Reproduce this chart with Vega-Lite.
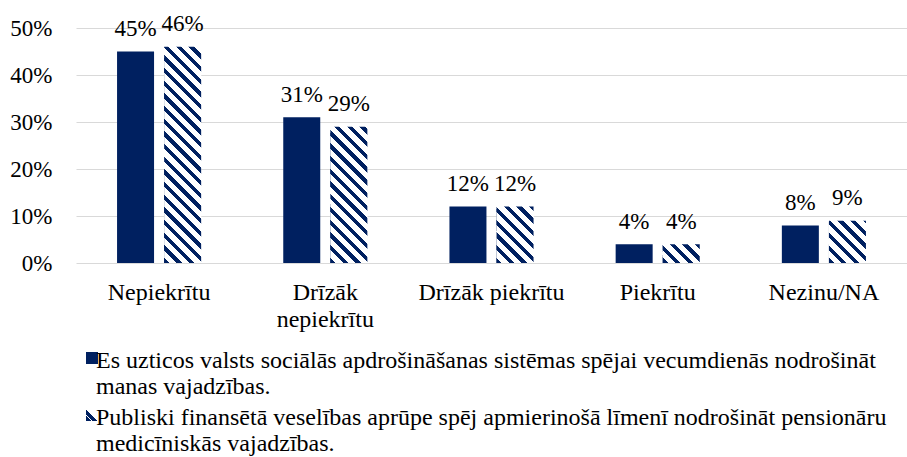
{
  "$schema": "https://vega.github.io/schema/vega-lite/v6.json",
  "width": 831,
  "height": 235,
  "autosize": {"type": "none"},
  "padding": {"left": 76, "top": 28, "right": 0, "bottom": 194},
  "background": "#ffffff",
  "config": {
    "view": {"stroke": null},
    "font": "Liberation Serif",
    "axis": {"labelFont": "Liberation Serif", "labelColor": "#000000", "title": null}
  },
  "data": {
    "values": [
      {"cat": "Nepiekrītu", "series": "Es uzticos valsts sociālās apdrošināšanas sistēmas spējai vecumdienās nodrošināt manas vajadzības.", "value": 0.45},
      {"cat": "Nepiekrītu", "series": "Publiski finansētā veselības aprūpe spēj apmierinošā līmenī nodrošināt pensionāru medicīniskās vajadzības.", "value": 0.46},
      {"cat": "Drīzāk nepiekrītu", "series": "Es uzticos valsts sociālās apdrošināšanas sistēmas spējai vecumdienās nodrošināt manas vajadzības.", "value": 0.31},
      {"cat": "Drīzāk nepiekrītu", "series": "Publiski finansētā veselības aprūpe spēj apmierinošā līmenī nodrošināt pensionāru medicīniskās vajadzības.", "value": 0.29},
      {"cat": "Drīzāk piekrītu", "series": "Es uzticos valsts sociālās apdrošināšanas sistēmas spējai vecumdienās nodrošināt manas vajadzības.", "value": 0.12},
      {"cat": "Drīzāk piekrītu", "series": "Publiski finansētā veselības aprūpe spēj apmierinošā līmenī nodrošināt pensionāru medicīniskās vajadzības.", "value": 0.12},
      {"cat": "Piekrītu", "series": "Es uzticos valsts sociālās apdrošināšanas sistēmas spējai vecumdienās nodrošināt manas vajadzības.", "value": 0.04},
      {"cat": "Piekrītu", "series": "Publiski finansētā veselības aprūpe spēj apmierinošā līmenī nodrošināt pensionāru medicīniskās vajadzības.", "value": 0.04},
      {"cat": "Nezinu/NA", "series": "Es uzticos valsts sociālās apdrošināšanas sistēmas spējai vecumdienās nodrošināt manas vajadzības.", "value": 0.08},
      {"cat": "Nezinu/NA", "series": "Publiski finansētā veselības aprūpe spēj apmierinošā līmenī nodrošināt pensionāru medicīniskās vajadzības.", "value": 0.09}
    ]
  },
  "encoding": {
    "x": {
      "field": "cat", "type": "nominal", "sort": null,
      "scale": {"domain": ["Nepiekrītu", "Drīzāk nepiekrītu", "Drīzāk piekrītu", "Piekrītu", "Nezinu/NA"], "paddingInner": 0.494, "paddingOuter": 0.247},
      "axis": {
        "domain": false, "ticks": false, "labelAngle": 0, "labelFontSize": 24, "labelPadding": 17, "labelLineHeight": 27,
        "labelExpr": "datum.label === 'Drīzāk nepiekrītu' ? ['Drīzāk', 'nepiekrītu'] : datum.label"
      }
    },
    "xOffset": {
      "field": "series", "type": "nominal",
      "scale": {"domain": ["Es uzticos valsts sociālās apdrošināšanas sistēmas spējai vecumdienās nodrošināt manas vajadzības.", "Publiski finansētā veselības aprūpe spēj apmierinošā līmenī nodrošināt pensionāru medicīniskās vajadzības."], "paddingInner": 0.2143, "paddingOuter": 0}
    },
    "y": {
      "field": "value", "type": "quantitative",
      "scale": {"domain": [0, 0.5], "nice": false},
      "axis": {"values": [0, 0.1, 0.2, 0.3, 0.4, 0.5], "format": ".0%", "domain": false, "ticks": false, "grid": true, "gridColor": "#d9d9d9", "gridWidth": 1, "labelFontSize": 23, "labelPadding": 24}
    }
  },
  "layer": [
    {
      "mark": {"type": "bar"},
      "encoding": {
        "color": {
          "field": "series", "type": "nominal",
          "scale": {
            "domain": ["Es uzticos valsts sociālās apdrošināšanas sistēmas spējai vecumdienās nodrošināt manas vajadzības.", "Publiski finansētā veselības aprūpe spēj apmierinošā līmenī nodrošināt pensionāru medicīniskās vajadzības."],
            "range": [
              "#002060",
              {"expr": "{gradient: 'linear', x1: 0, y1: 1, x2: 1, y2: 0, stops: [{offset: 0, color: '#002060'}, {offset: 0.22, color: '#002060'}, {offset: 0.22, color: '#ffffff'}, {offset: 0.28, color: '#ffffff'}, {offset: 0.28, color: '#002060'}, {offset: 0.48, color: '#002060'}, {offset: 0.48, color: '#ffffff'}, {offset: 1, color: '#ffffff'}]}"}
            ]
          },
          "legend": {
            "orient": "none", "legendX": 4, "legendY": 318, "direction": "vertical", "title": null,
            "symbolType": "square", "symbolSize": 144, "symbolStrokeWidth": 0, "padding": 0,
            "labelFont": "Liberation Serif", "labelFontSize": 24, "labelColor": "#000000", "labelLimit": 900,
            "labelOffset": -3, "labelBaseline": "top", "labelLineHeight": 28.5, "rowPadding": 4,
            "labelExpr": "indexof(datum.label, 'Es ') === 0 ? ['Es uzticos valsts sociālās apdrošināšanas sistēmas spējai vecumdienās nodrošināt', 'manas vajadzības.'] : ['Publiski finansētā veselības aprūpe spēj apmierinošā līmenī nodrošināt pensionāru', 'medicīniskās vajadzības.']",
            "encode": {"labels": {"update": {"dy": {"value": -9}, "dx": {"value": -5}}}}
          }
        }
      }
    },
    {
      "transform": [{"filter": "indexof(datum.series, 'Publiski') === 0"}],
      "mark": {"type": "bar"},
      "encoding": {
        "fill": {
          "condition": [
            {"test": "datum.cat === 'Nepiekrītu'", "value": {"gradient": "linear", "x1": 0, "y1": 1, "x2": 0.19473, "y2": -0.13785, "stops": [
                {"offset": 0, "color": "#002060"}, {"offset": 0.021, "color": "#002060"}, {"offset": 0.021, "color": "#ffffff"}, {"offset": 0.05, "color": "#ffffff"},
                {"offset": 0.05, "color": "#002060"}, {"offset": 0.071, "color": "#002060"}, {"offset": 0.071, "color": "#ffffff"}, {"offset": 0.1, "color": "#ffffff"},
                {"offset": 0.1, "color": "#002060"}, {"offset": 0.121, "color": "#002060"}, {"offset": 0.121, "color": "#ffffff"}, {"offset": 0.15, "color": "#ffffff"},
                {"offset": 0.15, "color": "#002060"}, {"offset": 0.171, "color": "#002060"}, {"offset": 0.171, "color": "#ffffff"}, {"offset": 0.2, "color": "#ffffff"},
                {"offset": 0.2, "color": "#002060"}, {"offset": 0.221, "color": "#002060"}, {"offset": 0.221, "color": "#ffffff"}, {"offset": 0.25, "color": "#ffffff"},
                {"offset": 0.25, "color": "#002060"}, {"offset": 0.271, "color": "#002060"}, {"offset": 0.271, "color": "#ffffff"}, {"offset": 0.3, "color": "#ffffff"},
                {"offset": 0.3, "color": "#002060"}, {"offset": 0.321, "color": "#002060"}, {"offset": 0.321, "color": "#ffffff"}, {"offset": 0.35, "color": "#ffffff"},
                {"offset": 0.35, "color": "#002060"}, {"offset": 0.371, "color": "#002060"}, {"offset": 0.371, "color": "#ffffff"}, {"offset": 0.4, "color": "#ffffff"},
                {"offset": 0.4, "color": "#002060"}, {"offset": 0.421, "color": "#002060"}, {"offset": 0.421, "color": "#ffffff"}, {"offset": 0.45, "color": "#ffffff"},
                {"offset": 0.45, "color": "#002060"}, {"offset": 0.471, "color": "#002060"}, {"offset": 0.471, "color": "#ffffff"}, {"offset": 0.5, "color": "#ffffff"},
                {"offset": 0.5, "color": "#002060"}, {"offset": 0.521, "color": "#002060"}, {"offset": 0.521, "color": "#ffffff"}, {"offset": 0.55, "color": "#ffffff"},
                {"offset": 0.55, "color": "#002060"}, {"offset": 0.571, "color": "#002060"}, {"offset": 0.571, "color": "#ffffff"}, {"offset": 0.6, "color": "#ffffff"},
                {"offset": 0.6, "color": "#002060"}, {"offset": 0.621, "color": "#002060"}, {"offset": 0.621, "color": "#ffffff"}, {"offset": 0.65, "color": "#ffffff"},
                {"offset": 0.65, "color": "#002060"}, {"offset": 0.671, "color": "#002060"}, {"offset": 0.671, "color": "#ffffff"}, {"offset": 0.7, "color": "#ffffff"},
                {"offset": 0.7, "color": "#002060"}, {"offset": 0.721, "color": "#002060"}, {"offset": 0.721, "color": "#ffffff"}, {"offset": 0.75, "color": "#ffffff"},
                {"offset": 0.75, "color": "#002060"}, {"offset": 0.771, "color": "#002060"}, {"offset": 0.771, "color": "#ffffff"}, {"offset": 0.8, "color": "#ffffff"},
                {"offset": 0.8, "color": "#002060"}, {"offset": 0.821, "color": "#002060"}, {"offset": 0.821, "color": "#ffffff"}, {"offset": 0.85, "color": "#ffffff"},
                {"offset": 0.85, "color": "#002060"}, {"offset": 0.871, "color": "#002060"}, {"offset": 0.871, "color": "#ffffff"}, {"offset": 0.9, "color": "#ffffff"},
                {"offset": 0.9, "color": "#002060"}, {"offset": 0.921, "color": "#002060"}, {"offset": 0.921, "color": "#ffffff"}, {"offset": 0.95, "color": "#ffffff"},
                {"offset": 0.95, "color": "#002060"}, {"offset": 0.971, "color": "#002060"}, {"offset": 0.971, "color": "#ffffff"}, {"offset": 1, "color": "#ffffff"}
              ]}},
            {"test": "datum.cat === 'Drīzāk nepiekrītu'", "value": {"gradient": "linear", "x1": 0, "y1": 1, "x2": 0.32146, "y2": -0.1842, "stops": [
                {"offset": 0, "color": "#002060"}, {"offset": 0.031, "color": "#002060"}, {"offset": 0.031, "color": "#ffffff"}, {"offset": 0.0735, "color": "#ffffff"},
                {"offset": 0.0735, "color": "#002060"}, {"offset": 0.1045, "color": "#002060"}, {"offset": 0.1045, "color": "#ffffff"}, {"offset": 0.147, "color": "#ffffff"},
                {"offset": 0.147, "color": "#002060"}, {"offset": 0.178, "color": "#002060"}, {"offset": 0.178, "color": "#ffffff"}, {"offset": 0.2205, "color": "#ffffff"},
                {"offset": 0.2205, "color": "#002060"}, {"offset": 0.2515, "color": "#002060"}, {"offset": 0.2515, "color": "#ffffff"}, {"offset": 0.294, "color": "#ffffff"},
                {"offset": 0.294, "color": "#002060"}, {"offset": 0.325, "color": "#002060"}, {"offset": 0.325, "color": "#ffffff"}, {"offset": 0.3675, "color": "#ffffff"},
                {"offset": 0.3675, "color": "#002060"}, {"offset": 0.3985, "color": "#002060"}, {"offset": 0.3985, "color": "#ffffff"}, {"offset": 0.441, "color": "#ffffff"},
                {"offset": 0.441, "color": "#002060"}, {"offset": 0.472, "color": "#002060"}, {"offset": 0.472, "color": "#ffffff"}, {"offset": 0.5145, "color": "#ffffff"},
                {"offset": 0.5145, "color": "#002060"}, {"offset": 0.5455, "color": "#002060"}, {"offset": 0.5455, "color": "#ffffff"}, {"offset": 0.588, "color": "#ffffff"},
                {"offset": 0.588, "color": "#002060"}, {"offset": 0.619, "color": "#002060"}, {"offset": 0.619, "color": "#ffffff"}, {"offset": 0.6615, "color": "#ffffff"},
                {"offset": 0.6615, "color": "#002060"}, {"offset": 0.6925, "color": "#002060"}, {"offset": 0.6925, "color": "#ffffff"}, {"offset": 0.735, "color": "#ffffff"},
                {"offset": 0.735, "color": "#002060"}, {"offset": 0.766, "color": "#002060"}, {"offset": 0.766, "color": "#ffffff"}, {"offset": 0.8085, "color": "#ffffff"},
                {"offset": 0.8085, "color": "#002060"}, {"offset": 0.8395, "color": "#002060"}, {"offset": 0.8395, "color": "#ffffff"}, {"offset": 0.882, "color": "#ffffff"},
                {"offset": 0.882, "color": "#002060"}, {"offset": 0.913, "color": "#002060"}, {"offset": 0.913, "color": "#ffffff"}, {"offset": 0.9555, "color": "#ffffff"},
                {"offset": 0.9555, "color": "#002060"}, {"offset": 0.9865, "color": "#002060"}, {"offset": 0.9865, "color": "#ffffff"}, {"offset": 1, "color": "#ffffff"}
              ]}},
            {"test": "datum.cat === 'Drīzāk piekrītu'", "value": {"gradient": "linear", "x1": 0, "y1": 1, "x2": 0.75953, "y2": -0.15777, "stops": [
                {"offset": 0, "color": "#002060"}, {"offset": 0.057, "color": "#002060"}, {"offset": 0.057, "color": "#ffffff"}, {"offset": 0.136, "color": "#ffffff"},
                {"offset": 0.136, "color": "#002060"}, {"offset": 0.193, "color": "#002060"}, {"offset": 0.193, "color": "#ffffff"}, {"offset": 0.272, "color": "#ffffff"},
                {"offset": 0.272, "color": "#002060"}, {"offset": 0.329, "color": "#002060"}, {"offset": 0.329, "color": "#ffffff"}, {"offset": 0.408, "color": "#ffffff"},
                {"offset": 0.408, "color": "#002060"}, {"offset": 0.465, "color": "#002060"}, {"offset": 0.465, "color": "#ffffff"}, {"offset": 0.544, "color": "#ffffff"},
                {"offset": 0.544, "color": "#002060"}, {"offset": 0.601, "color": "#002060"}, {"offset": 0.601, "color": "#ffffff"}, {"offset": 0.68, "color": "#ffffff"},
                {"offset": 0.68, "color": "#002060"}, {"offset": 0.737, "color": "#002060"}, {"offset": 0.737, "color": "#ffffff"}, {"offset": 0.816, "color": "#ffffff"},
                {"offset": 0.816, "color": "#002060"}, {"offset": 0.873, "color": "#002060"}, {"offset": 0.873, "color": "#ffffff"}, {"offset": 0.952, "color": "#ffffff"},
                {"offset": 0.952, "color": "#002060"}, {"offset": 1, "color": "#002060"}
              ]}},
            {"test": "datum.cat === 'Piekrītu'", "value": {"gradient": "linear", "x1": 0, "y1": 1, "x2": 1.19866, "y2": 0.39094, "stops": [
                {"offset": 0, "color": "#002060"}, {"offset": 0.096, "color": "#002060"}, {"offset": 0.096, "color": "#ffffff"}, {"offset": 0.228, "color": "#ffffff"},
                {"offset": 0.228, "color": "#002060"}, {"offset": 0.324, "color": "#002060"}, {"offset": 0.324, "color": "#ffffff"}, {"offset": 0.456, "color": "#ffffff"},
                {"offset": 0.456, "color": "#002060"}, {"offset": 0.552, "color": "#002060"}, {"offset": 0.552, "color": "#ffffff"}, {"offset": 0.684, "color": "#ffffff"},
                {"offset": 0.684, "color": "#002060"}, {"offset": 0.78, "color": "#002060"}, {"offset": 0.78, "color": "#ffffff"}, {"offset": 0.912, "color": "#ffffff"},
                {"offset": 0.912, "color": "#002060"}, {"offset": 1, "color": "#002060"}
              ]}}
          ],
          "value": {"gradient": "linear", "x1": 0, "y1": 1, "x2": 0.92902, "y2": -0.0621, "stops": [
                {"offset": 0, "color": "#002060"}, {"offset": 0.067, "color": "#002060"}, {"offset": 0.067, "color": "#ffffff"}, {"offset": 0.16, "color": "#ffffff"},
                {"offset": 0.16, "color": "#002060"}, {"offset": 0.227, "color": "#002060"}, {"offset": 0.227, "color": "#ffffff"}, {"offset": 0.32, "color": "#ffffff"},
                {"offset": 0.32, "color": "#002060"}, {"offset": 0.387, "color": "#002060"}, {"offset": 0.387, "color": "#ffffff"}, {"offset": 0.48, "color": "#ffffff"},
                {"offset": 0.48, "color": "#002060"}, {"offset": 0.547, "color": "#002060"}, {"offset": 0.547, "color": "#ffffff"}, {"offset": 0.64, "color": "#ffffff"},
                {"offset": 0.64, "color": "#002060"}, {"offset": 0.707, "color": "#002060"}, {"offset": 0.707, "color": "#ffffff"}, {"offset": 0.8, "color": "#ffffff"},
                {"offset": 0.8, "color": "#002060"}, {"offset": 0.867, "color": "#002060"}, {"offset": 0.867, "color": "#ffffff"}, {"offset": 0.96, "color": "#ffffff"},
                {"offset": 0.96, "color": "#002060"}, {"offset": 1, "color": "#002060"}
              ]}
        }
      }
    },
    {
      "mark": {"type": "text", "font": "Liberation Serif", "fontSize": 23, "color": "#000000", "baseline": "alphabetic", "dy": -15.5},
      "encoding": {
        "text": {"field": "value", "type": "quantitative", "format": ".0%"}
      }
    }
  ]
}
